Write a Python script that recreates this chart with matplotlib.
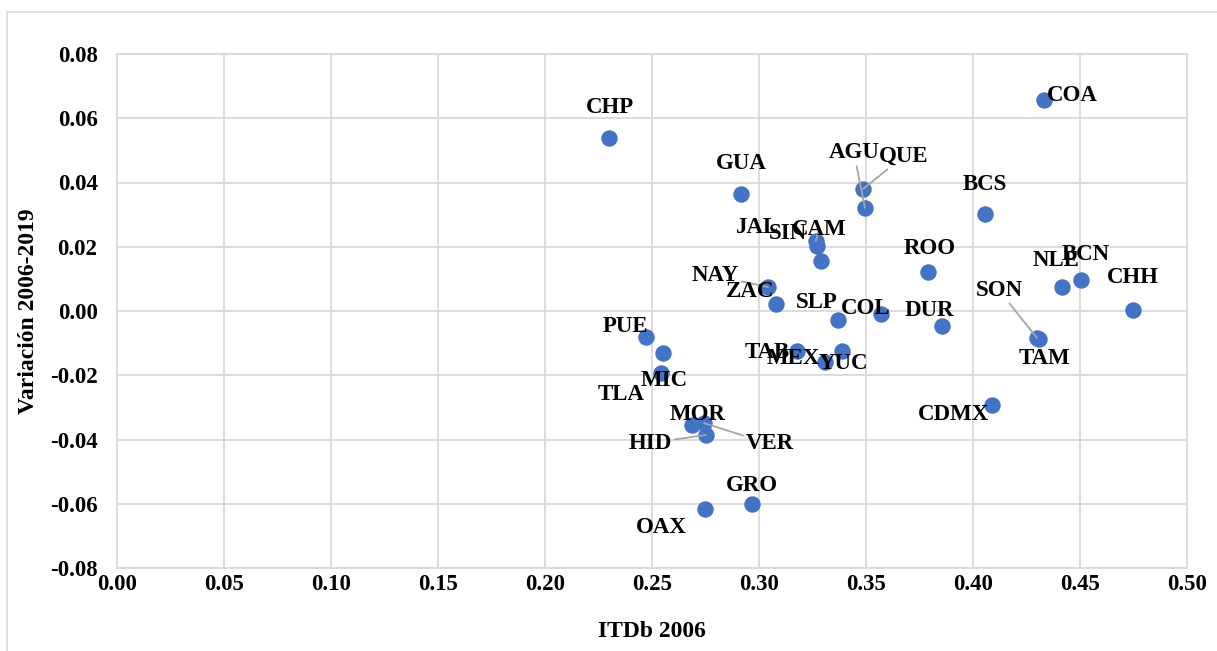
import matplotlib.pyplot as plt
from matplotlib.patches import Rectangle

# data
states = ["CHP", "COA", "GUA", "QUE", "AGU", "BCS", "CAM", "JAL", "SIN", "ROO",
          "NAY", "ZAC", "SLP", "COL", "DUR", "SON", "NLE", "BCN", "CHH", "TAM",
          "CDMX", "PUE", "TLA", "MIC", "TAB", "MEX", "YUC", "MOR", "VER", "HID",
          "GRO", "OAX"]
itdb_2006 = [0.230, 0.433, 0.2916, 0.3486, 0.3495, 0.4056, 0.3266, 0.3271, 0.329, 0.379,
             0.3042, 0.308, 0.337, 0.357, 0.3855, 0.4299, 0.4416, 0.4505, 0.4748, 0.4308,
             0.4089, 0.2472, 0.2551, 0.2542, 0.3178, 0.3388, 0.3308, 0.2687, 0.2743, 0.2752,
             0.2967, 0.2748]
variacion = [0.0539, 0.0657, 0.0364, 0.0380, 0.0321, 0.0302, 0.0218, 0.0202, 0.0156, 0.0121,
             0.0075, 0.0022, -0.0028, -0.0009, -0.0047, -0.0084, 0.0075, 0.0096, 0.0003, -0.0087,
             -0.0293, -0.0081, -0.0131, -0.0193, -0.0125, -0.0125, -0.0159, -0.0355, -0.0349, -0.0386,
             -0.0601, -0.0616]

# where each data label sits (data coords)
label_pos = {
    "CHP": (0.2304, 0.0632), "COA": (0.4463, 0.0672), "GUA": (0.2916, 0.0458),
    "AGU": (0.3444, 0.0492), "QUE": (0.3678, 0.0482), "BCS": (0.4056, 0.0395),
    "JAL": (0.2995, 0.0261), "SIN": (0.3136, 0.0240), "CAM": (0.3280, 0.0255),
    "ROO": (0.3799, 0.0196), "NAY": (0.2794, 0.0109), "ZAC": (0.2958, 0.0062),
    "SLP": (0.3271, 0.0028), "COL": (0.3500, 0.0009), "DUR": (0.3794, 0.0003),
    "SON": (0.4121, 0.0065), "NLE": (0.4388, 0.0156), "BCN": (0.4528, 0.0177),
    "CHH": (0.4748, 0.0103), "TAM": (0.4336, -0.0149), "CDMX": (0.3911, -0.0321),
    "PUE": (0.2374, -0.0047), "TLA": (0.2355, -0.0261), "MIC": (0.2556, -0.0215),
    "TAB": (0.3037, -0.0128), "MEX": (0.3159, -0.0149), "YUC": (0.3393, -0.0162),
    "MOR": (0.2715, -0.0321), "HID": (0.2491, -0.0411), "VER": (0.3051, -0.0414),
    "GRO": (0.2967, -0.0542), "OAX": (0.2542, -0.0675),
}
leaders = ["AGU", "QUE", "CAM", "NAY", "HID", "VER", "SON"]

plt.rcParams['font.family'] = ['Liberation Serif', 'DejaVu Serif']
plt.rcParams['font.weight'] = 'bold'

fig = plt.figure(figsize=(12.17, 6.51), dpi=100)
# chart border
fig.patches.append(Rectangle((7/1217, -0.1), 1.2, 1 - 12/651 + 0.1, transform=fig.transFigure,
                             fill=False, edgecolor='#D9D9D9', linewidth=1.2))
ax = fig.add_axes([117/1217, 1 - 568/651, 1070/1217, 514/651])

ax.scatter(itdb_2006, variacion, s=140, color='#4472C4', zorder=3, linewidths=0)

for name, x, y in zip(states, itdb_2006, variacion):
    props = None
    if name in leaders:
        props = dict(arrowstyle='-', color='#A6A6A6', lw=1.3, shrinkA=0, shrinkB=0)
    ax.annotate(name, xy=(x, y), xytext=label_pos[name], ha='center', va='center',
                fontsize=16.5, fontweight='bold', color='black', arrowprops=props, zorder=4)

ax.set_xlim(0, 0.5)
ax.set_ylim(-0.08, 0.08)
ax.set_xticks([i * 0.05 for i in range(11)])
ax.set_yticks([-0.08 + i * 0.02 for i in range(9)])
ax.set_xticklabels(["%.2f" % (i * 0.05) for i in range(11)])
ax.set_yticklabels(["%.2f" % (-0.08 + i * 0.02) for i in range(9)])
ax.tick_params(length=0, labelsize=16.5)
ax.tick_params(axis='x', pad=4)
ax.tick_params(axis='y', pad=14)
for lab in ax.get_xticklabels() + ax.get_yticklabels():
    lab.set_fontweight('bold')
ax.grid(True, color='#D9D9D9', linewidth=1.3)
ax.set_axisbelow(True)
for sp in ax.spines.values():
    sp.set_color('#D9D9D9')
    sp.set_linewidth(1.3)

ax.set_xlabel("ITDb 2006", fontsize=17, fontweight='bold')
ax.set_ylabel("Variación 2006-2019", fontsize=17, fontweight='bold')
ax.xaxis.set_label_coords(0.5, -0.103)
ax.yaxis.set_label_coords(-0.073, 0.5)

plt.savefig("out.png", dpi=100)
plt.close()
